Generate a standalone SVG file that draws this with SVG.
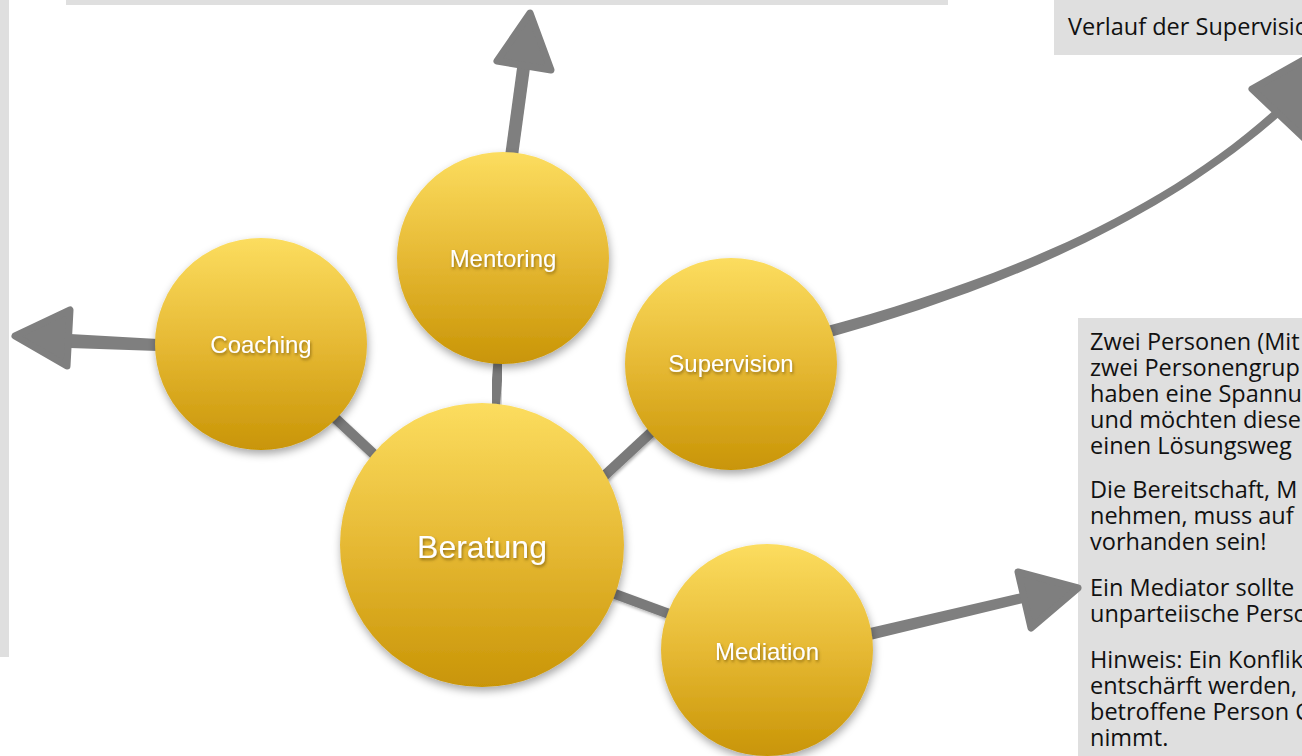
<svg xmlns="http://www.w3.org/2000/svg" width="1302" height="756" viewBox="0 0 1302 756">
<defs>
<linearGradient id="gold" x1="0" y1="0" x2="0" y2="1">
<stop offset="0" stop-color="#fcdd5f"/>
<stop offset="0.5" stop-color="#e6b934"/>
<stop offset="1" stop-color="#c99506"/>
</linearGradient>
<filter id="shadow" x="-20%" y="-20%" width="140%" height="140%">
<feDropShadow dx="1" dy="4" stdDeviation="4" flood-color="#000" flood-opacity="0.35"/>
</filter>
<filter id="tshadow" x="-10%" y="-30%" width="120%" height="160%">
<feDropShadow dx="1" dy="2" stdDeviation="1.5" flood-color="#5a4300" flood-opacity="0.6"/>
</filter>
<filter id="lshadow" x="-10%" y="-10%" width="120%" height="120%">
<feDropShadow dx="1" dy="2" stdDeviation="1.5" flood-color="#000" flood-opacity="0.3"/>
</filter>
</defs>
<style>
.panel{fill:#dfdfdf}
.note{font-family:"Open Sans","Noto Sans",sans-serif;font-size:23.5px;fill:#111}
.node circle{fill:url(#gold);filter:url(#shadow)}
.label{font-family:"Liberation Sans",Arial,sans-serif;font-size:24px;fill:#fff;text-anchor:middle;filter:url(#tshadow)}
.big{font-size:32px}
.link{stroke:#7a7a7a;stroke-width:10;fill:none;filter:url(#lshadow)}
.arrow{fill:#7f7f7f;stroke:#7f7f7f;stroke-width:7;stroke-linejoin:round}
.shaft{fill:#7f7f7f}
</style>

<g id="panels">
<rect class="panel" x="66" y="0" width="882" height="5"/>
<rect class="panel" x="0" y="0" width="9" height="657"/>
<rect class="panel" x="1054" y="0" width="248" height="55"/>
<text class="note" x="1068" y="35">Verlauf der Supervisio</text>
<rect class="panel" x="1078" y="318" width="224" height="438"/>
<g class="note">
<text x="1090" y="350">Zwei Personen (Mit</text>
<text x="1090" y="376">zwei Personengrup</text>
<text x="1090" y="402">haben eine Spannu</text>
<text x="1090" y="428">und möchten diese</text>
<text x="1090" y="454">einen Lösungsweg</text>
<text x="1090" y="498">Die Bereitschaft, M</text>
<text x="1090" y="524">nehmen, muss auf</text>
<text x="1090" y="550">vorhanden sein!</text>
<text x="1090" y="596">Ein Mediator sollte</text>
<text x="1090" y="622">unparteiische Perso</text>
<text x="1090" y="668">Hinweis: Ein Konflik</text>
<text x="1090" y="694">entschärft werden,</text>
<text x="1090" y="720">betroffene Person C</text>
<text x="1090" y="746">nimmt.</text>
</g>
</g>

<g id="connectors">
<line class="link" x1="501" y1="330" x2="493" y2="430"/>
<line class="link" x1="290" y1="376" x2="410" y2="488"/>
<line class="link" x1="575" y1="503" x2="685" y2="401"/>
<line class="link" x1="482" y1="545" x2="767" y2="650"/>
<!-- Mentoring arrow -->
<polygon class="shaft" points="505,156 518,156 530,68 517,68"/>
<polygon class="arrow" points="530,13 497,61 551,70"/>
<!-- Coaching arrow -->
<polygon class="shaft" points="158,339 158,351 70,348 70,334"/>
<polygon class="arrow" points="15,336 70,310 67,366"/>
<!-- Mediation arrow -->
<polygon class="shaft" points="868.6,628.2 871.4,639.8 1023.2,602.9 1020.9,593.2"/>
<polygon class="arrow" points="1018,572 1078,588 1031,628"/>
<!-- Supervision arrow -->
<path class="shaft" d="M 820 328 C 980 285, 1150 222, 1275 109 L 1281 115 C 1150 230, 980 296, 820 340 Z"/>
<polygon class="arrow" points="1252,89 1335,42 1306,140"/>
</g>

<g id="node-mentoring" class="node">
<circle cx="503" cy="258" r="106"/>
<text class="label" x="503" y="267">Mentoring</text>
</g>
<g id="node-coaching" class="node">
<circle cx="261" cy="344" r="106"/>
<text class="label" x="261" y="353">Coaching</text>
</g>
<g id="node-supervision" class="node">
<circle cx="731" cy="364" r="106"/>
<text class="label" x="731" y="372">Supervision</text>
</g>
<g id="node-mediation" class="node">
<circle cx="767" cy="650" r="106"/>
<text class="label" x="767" y="660">Mediation</text>
</g>
<g id="node-beratung" class="node">
<circle cx="482" cy="545" r="142"/>
<text class="label big" x="482" y="558">Beratung</text>
</g>
</svg>
